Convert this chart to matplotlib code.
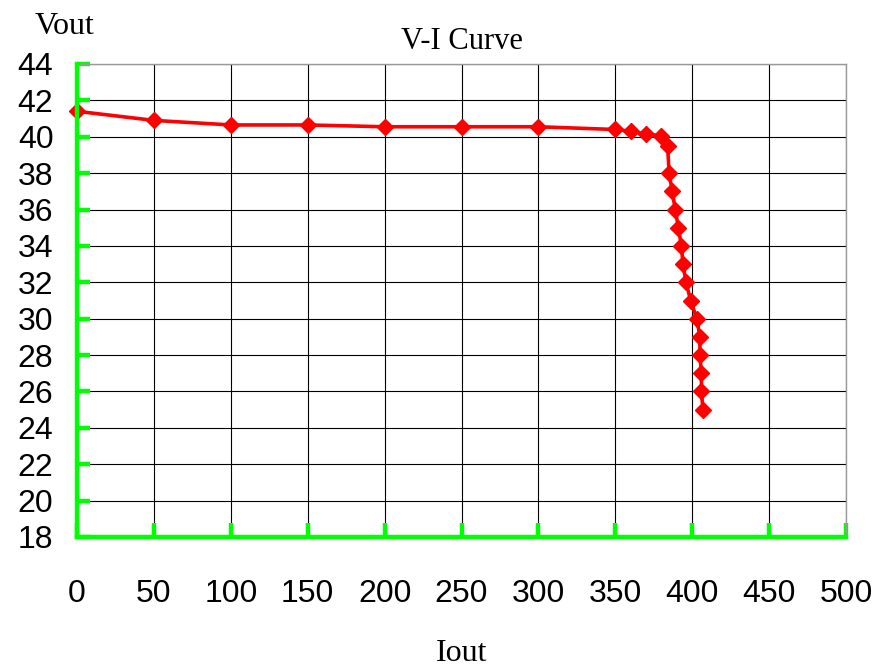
import matplotlib.pyplot as plt
from matplotlib.ticker import MultipleLocator

iout = [0, 50, 100, 150, 200, 250, 300, 350, 360, 370, 380, 384, 385, 387,
        389, 391, 393, 394, 396, 399, 403, 405, 405, 406, 406, 407]
vout = [41.4, 40.9, 40.65, 40.65, 40.55, 40.55, 40.55, 40.4, 40.3, 40.15,
        40.05, 39.5, 38, 37, 36, 35, 34, 33, 32, 31, 30, 29, 28, 27, 26, 25]

VERDE = '#00ff00'
VERMELHO = '#ff0000'

fig = plt.figure(figsize=(8.88, 6.7), dpi=100)
ax = fig.add_axes([77 / 888, 1 - 537 / 670, 769 / 888, 473 / 670])

ax.plot(iout, vout, color=VERMELHO, linewidth=2.6, marker='D',
        markersize=8.5, zorder=5, clip_on=False)

ax.set_xlim(0, 500)
ax.set_ylim(18, 44)
ax.xaxis.set_major_locator(MultipleLocator(50))
ax.yaxis.set_major_locator(MultipleLocator(2))

ax.grid(True, color='black', linewidth=0.8)
ax.set_axisbelow(True)

for lado in ['top', 'right']:
    ax.spines[lado].set_color('#999999')
    ax.spines[lado].set_linewidth(1)
for lado in ['left', 'bottom']:
    ax.spines[lado].set_color(VERDE)
    ax.spines[lado].set_linewidth(3.2)
    ax.spines[lado].set_zorder(6)

ax.tick_params(axis='both', direction='in', color=VERDE, width=3.2,
               labelsize=23, zorder=6)
ax.tick_params(axis='x', length=10, pad=30)
ax.tick_params(axis='y', length=9, pad=17)
for lbl in ax.get_xticklabels() + ax.get_yticklabels():
    lbl.set_family('Liberation Sans')

ax.set_title('V-I Curve', family='Liberation Serif', fontsize=22, pad=11)
ax.set_xlabel('Iout', family='Liberation Serif', fontsize=23, labelpad=22)
fig.text(65 / 888, 1 - 27 / 670, 'Vout', family='Liberation Serif',
         fontsize=23, ha='center', va='center')

fig.savefig('out.png', dpi=100)
